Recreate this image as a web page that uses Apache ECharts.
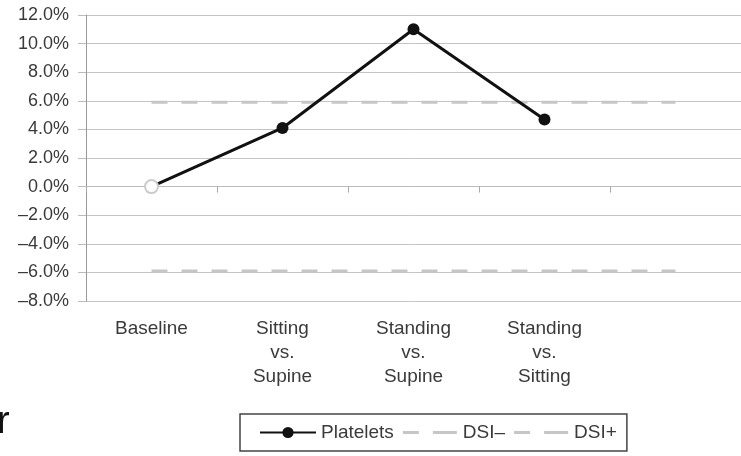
<!DOCTYPE html>
<html><head><meta charset="utf-8">
<script src="https://cdn.jsdelivr.net/npm/echarts@6/dist/echarts.min.js"></script>
<style>html,body{margin:0;padding:0;background:#fff}#c{width:741px;height:456px}</style>
</head><body><div id="c"></div>
<script>
const categories = ['Baseline', 'Sitting\nvs.\nSupine', 'Standing\nvs.\nSupine', 'Standing\nvs.\nSitting', ''];
const platelets = [0, 4.1, 11.0, 4.7, null];
const dsiMinus = [-5.9, -5.9, -5.9, -5.9, -5.9];
const dsiPlus = [5.9, 5.9, 5.9, 5.9, 5.9];
const yMin = -8, yMax = 12, yStep = 2;

const chart = echarts.init(document.getElementById('c'));
const font = 'Liberation Sans, Arial, sans-serif';
const grey = '#c6c6c6';
const dash = { type: [16, 14], width: 3, color: grey };
const dashIcon = 'path://M0,0M54,14M0,5.5h16v3h-16zM30,5.5h24v3h-24z';
chart.setOption({
  animation: false,
  textStyle: { fontFamily: font },
  grid: { left: 86, right: 0, top: 15, bottom: 155 },
  xAxis: [
    { type: 'category', data: categories, position: 'bottom',
      axisLine: { show: false, onZero: false }, axisTick: { show: false },
      axisLabel: { color: '#3a3a3a', fontSize: 19, lineHeight: 24, margin: 16, interval: 0 } },
    { type: 'category', data: categories, position: 'top',
      axisLine: { show: true, onZero: true, lineStyle: { color: '#bbb', width: 1 } },
      axisTick: { show: true, inside: true, length: 6, lineStyle: { color: '#aaa' } },
      axisLabel: { show: false } }
  ],
  yAxis: {
    type: 'value', min: yMin, max: yMax, interval: yStep,
    axisLine: { show: true, lineStyle: { color: '#999' } },
    axisTick: { show: true, length: 8, lineStyle: { color: '#bbb' } },
    splitLine: { lineStyle: { color: '#c4c4c4', width: 1 } },
    axisLabel: { color: '#3a3a3a', fontSize: 18, margin: 17,
      formatter: v => (v < 0 ? '\u2013' + Math.abs(v).toFixed(1) : v.toFixed(1)) + '%' }
  },
  legend: {
    left: 240, top: 414,
    padding: [9, 10, 9, 19], itemGap: 9,
    borderColor: '#444', borderWidth: 1.5,
    itemWidth: 56, itemHeight: 14,
    textStyle: { color: '#3a3a3a', fontSize: 19, fontFamily: font },
    data: [
      'Platelets',
      { name: 'DSI\u2013', icon: dashIcon, itemStyle: { color: grey, borderWidth: 0 } },
      { name: 'DSI+', icon: dashIcon, itemStyle: { color: grey, borderWidth: 0 } }
    ]
  },
  series: [
    { name: 'DSI\u2013', type: 'line', data: dsiMinus, symbol: 'none', lineStyle: dash, itemStyle: { color: grey } },
    { name: 'DSI+', type: 'line', data: dsiPlus, symbol: 'none', lineStyle: dash, itemStyle: { color: grey } },
    { name: 'Platelets', type: 'line', data: platelets.map((v, i) => i === 0 ? { value: v, symbolSize: 13, itemStyle: { color: '#fff', borderColor: '#ccc', borderWidth: 2 } } : v),
      symbol: 'circle', symbolSize: 12, z: 5,
      lineStyle: { color: '#111', width: 3 }, itemStyle: { color: '#111' } }
  ],
  graphic: [
    { type: 'text', left: -3, top: 404, style: { text: 'r', fontSize: 38, fill: '#111', fontFamily: font } }
  ]
});
</script></body></html>
